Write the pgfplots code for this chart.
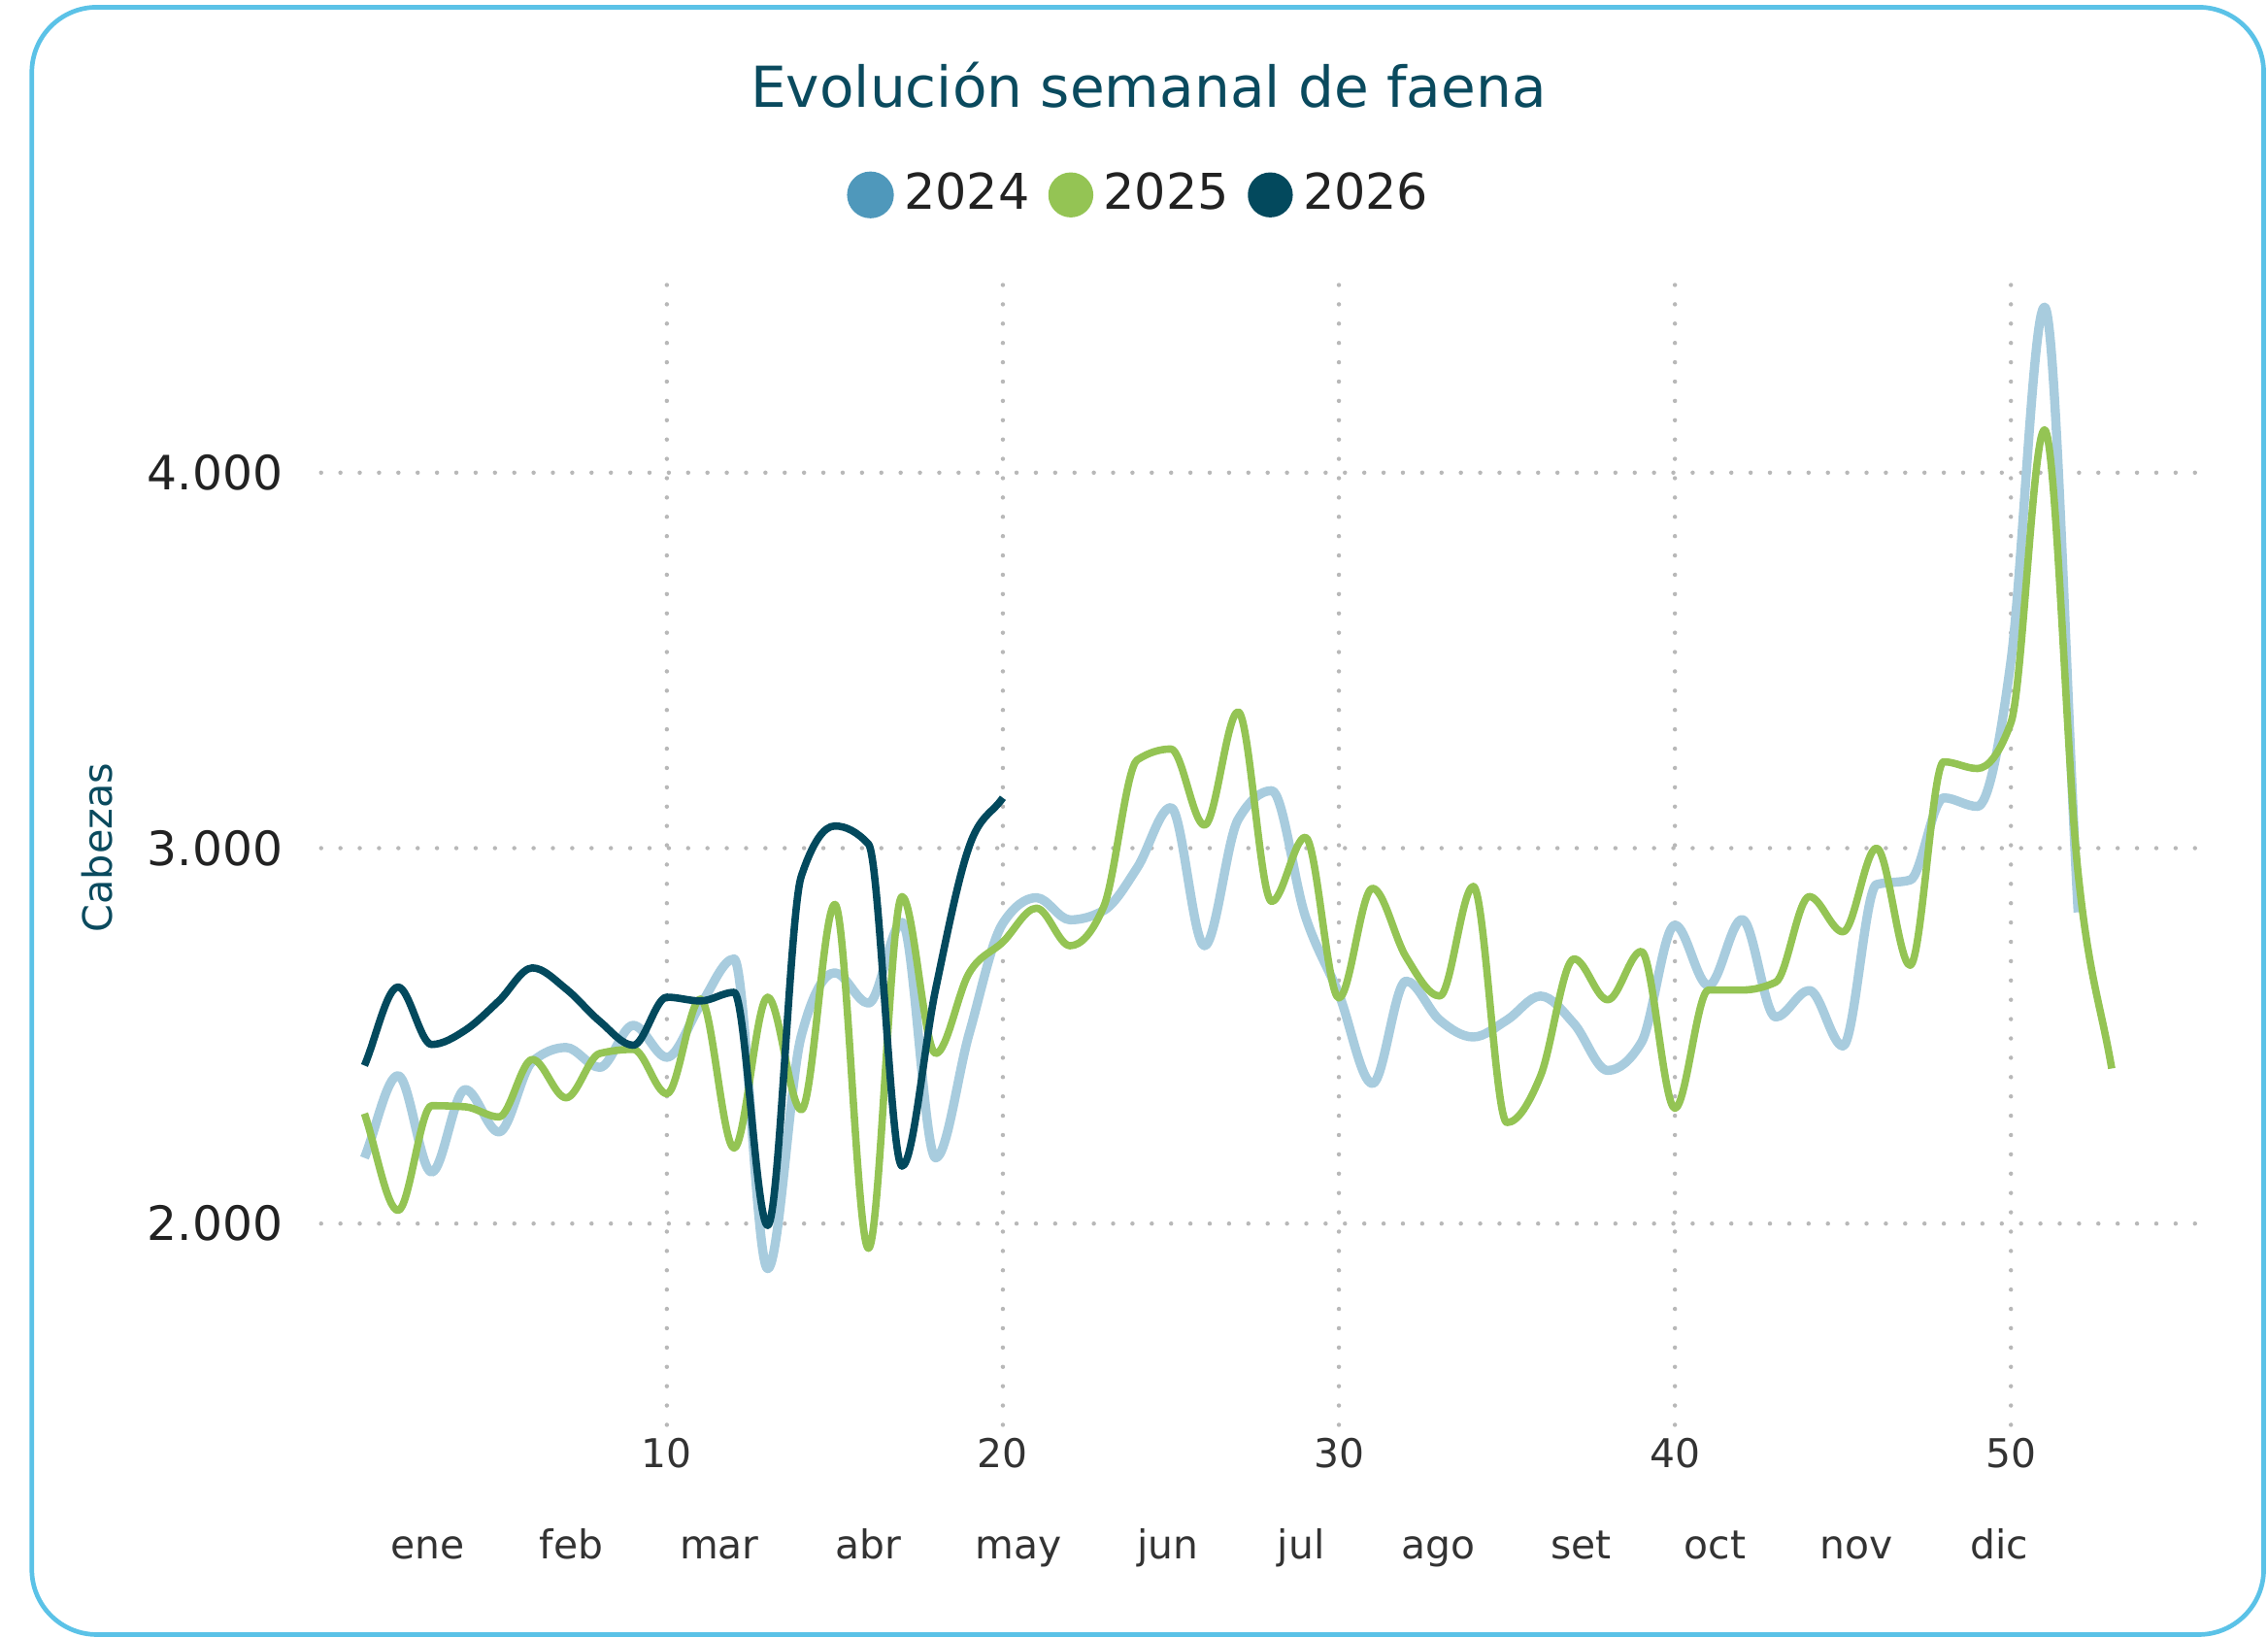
\documentclass[border=0pt]{standalone}
\usepackage{fontspec}
\setmainfont{DejaVu Sans}
\usepackage{pgfplots}
\pgfplotsset{compat=1.18}
\definecolor{cline24}{HTML}{A8CCDE}
\definecolor{cdot24}{HTML}{4F98BB}
\definecolor{c25}{HTML}{94C454}
\definecolor{c26}{HTML}{03495D}
\definecolor{ctitle}{HTML}{0A4A5E}
\definecolor{cborder}{HTML}{5BC2E7}
\definecolor{cgrid}{HTML}{B8B8B8}
\definecolor{ctext}{HTML}{222222}
\definecolor{clabel}{HTML}{333333}

% monotone cubic plot handler (curve through the data points, no overshoot)
\makeatletter
\newcount\mono@n
\newcount\mono@i
\newcount\mono@j
\newcount\mono@k
\def\pgfplothandlermonotone{%
  \def\pgf@plotstreamstart{%
    \global\mono@n=0
    \global\let\pgf@plotstreampoint=\mono@point
    \global\let\pgf@plotstreamspecial=\pgfutil@gobble
    \global\let\pgf@plotstreamend=\mono@end
  }%
}
\def\mono@point#1{%
  \pgf@process{#1}%
  \global\advance\mono@n by 1
  \expandafter\xdef\csname mono@x\the\mono@n\endcsname{\pgf@sys@tonumber\pgf@x}%
  \expandafter\xdef\csname mono@y\the\mono@n\endcsname{\pgf@sys@tonumber\pgf@y}%
}
\def\mono@X#1{\csname mono@x#1\endcsname}
\def\mono@Y#1{\csname mono@y#1\endcsname}
\def\mono@end{%
  \ifnum\mono@n>1
    \mono@i=1
    \loop\ifnum\mono@i<\mono@n
      \mono@j=\mono@i \advance\mono@j by 1
      \pgfmathsetmacro\mono@hh{(\mono@X{\the\mono@j})-(\mono@X{\the\mono@i})}%
      \pgfmathsetmacro\mono@ss{((\mono@Y{\the\mono@j})-(\mono@Y{\the\mono@i}))/(\mono@hh)}%
      \expandafter\let\csname mono@h\the\mono@i\endcsname\mono@hh
      \expandafter\let\csname mono@s\the\mono@i\endcsname\mono@ss
      \advance\mono@i by 1
    \repeat
    \expandafter\edef\csname mono@m1\endcsname{\csname mono@s1\endcsname}%
    \mono@k=\mono@n \advance\mono@k by -1
    \expandafter\edef\csname mono@m\the\mono@n\endcsname{\csname mono@s\the\mono@k\endcsname}%
    \mono@i=2
    \loop\ifnum\mono@i<\mono@n
      \mono@k=\mono@i \advance\mono@k by -1
      \edef\mono@sa{\csname mono@s\the\mono@k\endcsname}%
      \edef\mono@sb{\csname mono@s\the\mono@i\endcsname}%
      \edef\mono@ha{\csname mono@h\the\mono@k\endcsname}%
      \edef\mono@hb{\csname mono@h\the\mono@i\endcsname}%
      \pgfmathsetmacro\mono@mm{ifthenelse((\mono@sa)*(\mono@sb)>0, ifthenelse(\mono@sa>0,1,-1)*2*min(abs(\mono@sa),abs(\mono@sb),0.5*abs(((\mono@sa)*(\mono@hb)+(\mono@sb)*(\mono@ha))/((\mono@ha)+(\mono@hb)))), 0)}%
      \expandafter\let\csname mono@m\the\mono@i\endcsname\mono@mm
      \advance\mono@i by 1
    \repeat
    \pgfpathmoveto{\pgfqpoint{\mono@X{1}pt}{\mono@Y{1}pt}}%
    \mono@i=1
    \loop\ifnum\mono@i<\mono@n
      \mono@j=\mono@i \advance\mono@j by 1
      \edef\mono@xa{\mono@X{\the\mono@i}}\edef\mono@ya{\mono@Y{\the\mono@i}}%
      \edef\mono@xb{\mono@X{\the\mono@j}}\edef\mono@yb{\mono@Y{\the\mono@j}}%
      \edef\mono@h{\csname mono@h\the\mono@i\endcsname}%
      \edef\mono@ma{\csname mono@m\the\mono@i\endcsname}%
      \edef\mono@mb{\csname mono@m\the\mono@j\endcsname}%
      \pgfmathsetmacro\mono@cax{\mono@xa+\mono@h/3}%
      \pgfmathsetmacro\mono@cay{\mono@ya+(\mono@ma)*\mono@h/3}%
      \pgfmathsetmacro\mono@cbx{\mono@xb-\mono@h/3}%
      \pgfmathsetmacro\mono@cby{\mono@yb-(\mono@mb)*\mono@h/3}%
      \pgfpathcurveto{\pgfqpoint{\mono@cax pt}{\mono@cay pt}}{\pgfqpoint{\mono@cbx pt}{\mono@cby pt}}{\pgfqpoint{\mono@xb pt}{\mono@yb pt}}%
      \advance\mono@i by 1
    \repeat
  \fi
}
\tikzset{monotone/.code={\def\tikz@plot@handler{\pgfplothandlermonotone}}}
\makeatother

\pgfplotstableread{
w v
1 2175
2 2394
3 2137
4 2357
5 2244
6 2432
7 2469
8 2416
9 2528
10 2443
11 2582
12 2705
13 1880
14 2500
15 2668
16 2587
17 2802
18 2175
19 2507
20 2800
21 2868
22 2809
23 2834
24 2948
25 3108
26 2740
27 3076
28 3153
29 2819
30 2611
31 2373
32 2646
33 2542
34 2497
35 2542
36 2606
37 2532
38 2408
39 2482
40 2795
41 2634
42 2810
43 2550
44 2621
45 2473
46 2903
47 2915
48 3134
49 3111
50 3498
51 4441
52 2829
}\tabA

\pgfplotstableread{
w v
1 2293
2 2035
3 2314
4 2311
5 2284
6 2437
7 2335
8 2453
9 2464
10 2346
11 2598
12 2201
13 2603
14 2303
15 2850
16 1934
17 2871
18 2453
19 2668
20 2750
21 2840
22 2740
23 2844
24 3235
25 3264
26 3061
27 3363
28 2858
29 3029
30 2601
31 2893
32 2710
33 2606
34 2898
35 2269
36 2393
37 2705
38 2596
39 2725
40 2307
41 2622
42 2622
43 2643
44 2871
45 2777
46 3000
47 2688
48 3230
49 3212
50 3334
51 4114
52 2933
53 2413
}\tabB

\pgfplotstableread{
w v
1 2421
2 2630
3 2477
4 2515
5 2593
6 2681
7 2625
8 2539
9 2475
10 2603
11 2593
12 2616
13 1995
14 2925
15 3059
16 3011
17 2153
18 2625
19 3005
20 3134
}\tabC

\begin{document}
\begin{tikzpicture}
\useasboundingbox (0,0) rectangle (15.68,11.32);
\draw[cborder, line width=0.9pt, rounded corners=0.45cm] (0.22,0.02) rectangle (15.65,11.27);
\node[anchor=base, text=ctitle, font=\fontsize{11.1}{13}\selectfont] at (7.94,10.58) {Evolución semanal de faena};
\node[rotate=90, text=ctitle, font=\fontsize{7.9}{9.5}\selectfont] at (0.67,5.46) {Cabezas};
\begin{axis}[
  at={(2.22cm,1.47cm)}, anchor=south west,
  width=13.06cm, height=7.88cm, scale only axis,
  xmin=-0.29, xmax=55.93, ymin=1464, ymax=4500,
  axis line style={draw=none},
  major tick length=0pt,
  xtick={10,20,30,40,50}, xticklabels={10,20,30,40,50},
  ytick={2000,3000,4000}, yticklabels={2.000,3.000,4.000},
  grid=major,
  major grid style={cgrid, line width=0.85pt, line cap=round, dash pattern=on 0pt off 3.8pt},
  xticklabel style={font=\fontsize{7.8}{9}\selectfont, text=clabel, yshift=0.03cm},
  yticklabel style={font=\fontsize{9.3}{10}\selectfont, text=ctext, xshift=-0.14cm},
  clip=false,
  legend columns=3,
  legend style={at={(0.435,1.079)}, anchor=center, draw=none, fill=none,
    font=\fontsize{9.7}{11}\selectfont, text=ctext,
    /tikz/every even column/.append style={column sep=0.06cm}},
]
\addplot[cline24, line width=1.8pt, monotone, line join=round,
  legend image code/.code={\fill[cdot24] (0.13cm,0cm) circle (0.13cm);}] table[x=w,y=v] {\tabA};
\addlegendentry{2024}
\addplot[c25, line width=1.45pt, monotone, line join=round,
  legend image code/.code={\fill[c25] (0.13cm,0cm) circle (0.13cm);}] table[x=w,y=v] {\tabB};
\addlegendentry{2025}
\addplot[c26, line width=1.45pt, monotone, line join=round,
  legend image code/.code={\fill[c26] (0.13cm,0cm) circle (0.13cm);}] table[x=w,y=v] {\tabC};
\addlegendentry{2026}
\foreach \m/\p in {ene/2.89,feb/7.16,mar/11.56,abr/16.0,may/20.47,jun/24.91,jul/28.88,ago/32.97,set/37.2,oct/41.2,nov/45.4,dic/49.66}{
  \edef\temp{\noexpand\node[anchor=base, font=\noexpand\fontsize{7.8}{9}\noexpand\selectfont, text=clabel, yshift=-0.93cm] at (axis cs:\p,1464) {\m};}
  \temp
}
\end{axis}
\end{tikzpicture}
\end{document}
